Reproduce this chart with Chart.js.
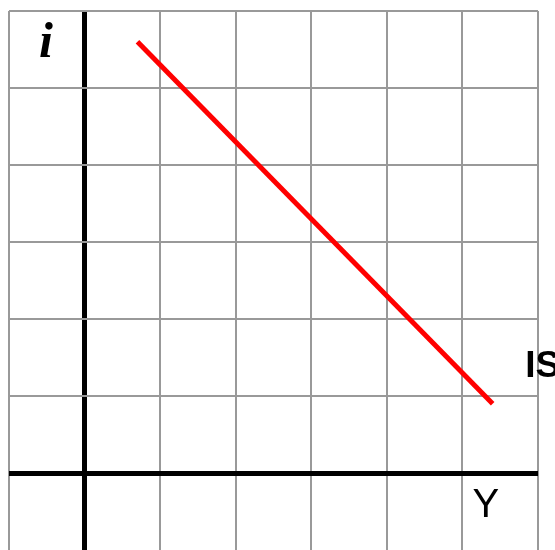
<!DOCTYPE html>
<html>
<head>
<meta charset="utf-8">
<script src="https://cdn.jsdelivr.net/npm/chart.js@4"></script>
<style>
html,body{margin:0;padding:0;background:#fff;}
#wrap{width:555px;height:550px;}
</style>
</head>
<body>
<div id="wrap"><canvas id="c" width="555" height="550"></canvas></div>
<script>
// IS curve endpoints (Y, i)
const isY = [0.7, 5.4];
const isI = [5.6, 0.9];
// grid ticks
const xTicks = [-1, 0, 1, 2, 3, 4, 5, 6];
const yTicks = [0, 1, 2, 3, 4, 5, 6];
// labels
const labels = [
  {text: 'i', x: -0.51, y: 5.4, font: 'italic bold 50px "Liberation Serif"', align: 'center'},
  {text: 'Y', x: 5.31, y: -0.57, font: '40px "Liberation Sans"', align: 'center'},
  {text: 'IS', x: 5.83, y: 1.25, font: 'bold 37px "Liberation Sans"', align: 'left'}
];

const labelPlugin = {
  id: 'labels',
  afterDraw(chart) {
    const ctx = chart.ctx, xs = chart.scales.x, ys = chart.scales.y;
    ctx.save();
    ctx.fillStyle = '#000';
    ctx.textBaseline = 'alphabetic';
    labels.forEach(l => {
      ctx.font = l.font;
      ctx.textAlign = l.align;
      ctx.fillText(l.text, xs.getPixelForValue(l.x), ys.getPixelForValue(l.y));
    });
    ctx.restore();
  }
};

const gridOpts = {
  drawTicks: false,
  color: c => c.tick && c.tick.value === 0 ? '#000' : '#999',
  lineWidth: c => c.tick && c.tick.value === 0 ? 5 : 2
};

new Chart(document.getElementById('c'), {
  type: 'scatter',
  data: {
    datasets: [{
      data: isY.map((v, k) => ({x: v, y: isI[k]})),
      showLine: true,
      borderColor: '#ff0000',
      borderWidth: 5,
      pointRadius: 0,
      fill: false
    }]
  },
  options: {
    responsive: false,
    animation: false,
    layout: {padding: {left: 9, right: 17, top: 11, bottom: 0}},
    plugins: {legend: {display: false}, tooltip: {enabled: false}},
    scales: {
      x: {
        type: 'linear', min: -1, max: 6,
        afterBuildTicks: s => { s.ticks = xTicks.map(v => ({value: v})); },
        ticks: {display: false},
        border: {display: false},
        grid: gridOpts
      },
      y: {
        type: 'linear', min: -1, max: 6,
        afterBuildTicks: s => { s.ticks = yTicks.map(v => ({value: v})); },
        ticks: {display: false},
        border: {display: false},
        grid: gridOpts
      }
    }
  },
  plugins: [labelPlugin]
});
</script>
</body>
</html>
